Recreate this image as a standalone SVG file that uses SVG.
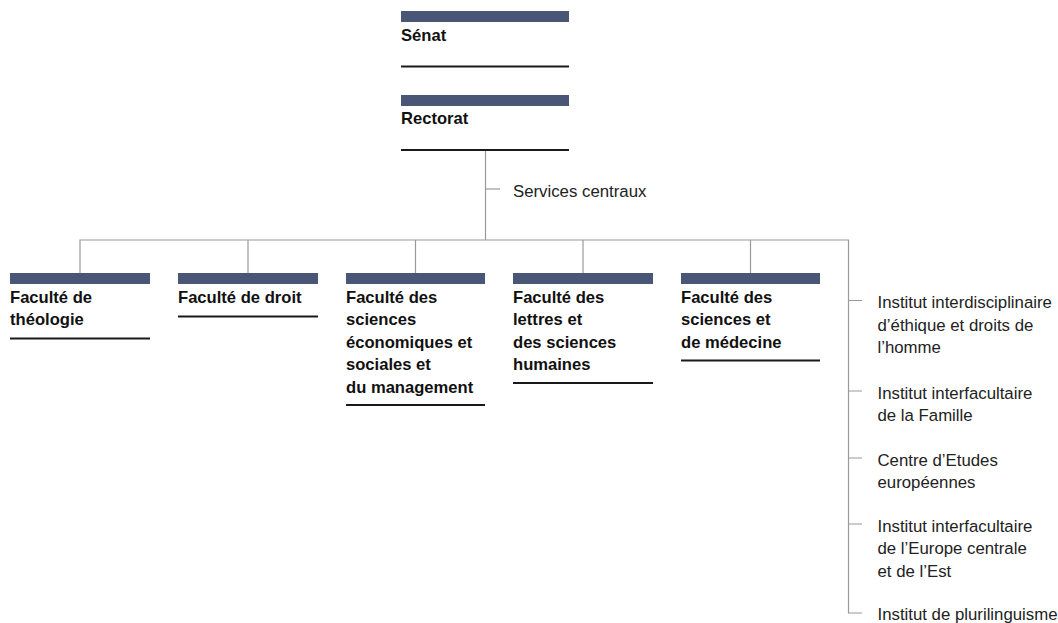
<svg xmlns="http://www.w3.org/2000/svg" width="1058" height="623" viewBox="0 0 1058 623">
<style>
.bar{fill:#4a5676}
.rule{stroke:#1a1a1a;stroke-width:2}
.con{stroke:#9a9a9a;stroke-width:1.2;fill:none}
.b{font-family:"Liberation Sans",Arial,sans-serif;font-weight:bold;font-size:16.6px;fill:#111}
.r{font-family:"Liberation Sans",Arial,sans-serif;font-size:16.8px;fill:#222}
</style>
<rect width="1058" height="623" fill="#fff"/>
<g id="connectors" class="con">
<path d="M485.5 150V240"/>
<path d="M485.5 189H500"/>
<path d="M80 273V240H848.5V613H862"/>
<path d="M248 240V273M415.5 240V273M583 240V273M750.5 240V273"/>
<path d="M848.5 300.5H862M848.5 391H862M848.5 458H862M848.5 524H862"/>
</g>
<g id="senat"><rect class="bar" x="401" y="11" width="168" height="11"/><text class="b" x="401" y="41">Sénat</text><line class="rule" x1="401" y1="66.5" x2="569" y2="66.5"/></g>
<g id="rectorat"><rect class="bar" x="401" y="95" width="168" height="11"/><text class="b" x="401" y="124">Rectorat</text><line class="rule" x1="401" y1="150" x2="569" y2="150"/></g>
<g id="services"><text class="r" x="513" y="196.5">Services centraux</text></g>
<g id="theologie"><rect class="bar" x="10" y="273" width="140" height="11"/><text class="b" x="10" y="302.5">Faculté de<tspan x="10" dy="22.5">théologie</tspan></text><line class="rule" x1="10" y1="338.5" x2="150" y2="338.5"/></g>
<g id="droit"><rect class="bar" x="178" y="273" width="140" height="11"/><text class="b" x="178" y="302.5">Faculté de droit</text><line class="rule" x1="178" y1="316.5" x2="318" y2="316.5"/></g>
<g id="ses"><rect class="bar" x="346" y="273" width="139" height="11"/><text class="b" x="346" y="302.5">Faculté des<tspan x="346" dy="22.5">sciences</tspan><tspan x="346" dy="22.5">économiques et</tspan><tspan x="346" dy="22.5">sociales et</tspan><tspan x="346" dy="22.5">du management</tspan></text><line class="rule" x1="346" y1="405" x2="485" y2="405"/></g>
<g id="lettres"><rect class="bar" x="513" y="273" width="140" height="11"/><text class="b" x="513" y="302.5">Faculté des<tspan x="513" dy="22.5">lettres et</tspan><tspan x="513" dy="22.5">des sciences</tspan><tspan x="513" dy="22.5">humaines</tspan></text><line class="rule" x1="513" y1="383" x2="653" y2="383"/></g>
<g id="medecine"><rect class="bar" x="681" y="273" width="139" height="11"/><text class="b" x="681" y="302.5">Faculté des<tspan x="681" dy="22.5">sciences et</tspan><tspan x="681" dy="22.5">de médecine</tspan></text><line class="rule" x1="681" y1="360.5" x2="820" y2="360.5"/></g>
<g id="inst1"><text class="r" x="877.5" y="308">Institut interdisciplinaire<tspan x="877.5" dy="22.5">d’éthique et droits de</tspan><tspan x="877.5" dy="22.5">l’homme</tspan></text></g>
<g id="inst2"><text class="r" x="877.5" y="398.5">Institut interfacultaire<tspan x="877.5" dy="22.5">de la Famille</tspan></text></g>
<g id="inst3"><text class="r" x="877.5" y="465.5">Centre d’Etudes<tspan x="877.5" dy="22.5">européennes</tspan></text></g>
<g id="inst4"><text class="r" x="877.5" y="531.5">Institut interfacultaire<tspan x="877.5" dy="22.5">de l’Europe centrale</tspan><tspan x="877.5" dy="22.5">et de l’Est</tspan></text></g>
<g id="inst5"><text class="r" x="877.5" y="620">Institut de plurilinguisme</text></g>
</svg>
